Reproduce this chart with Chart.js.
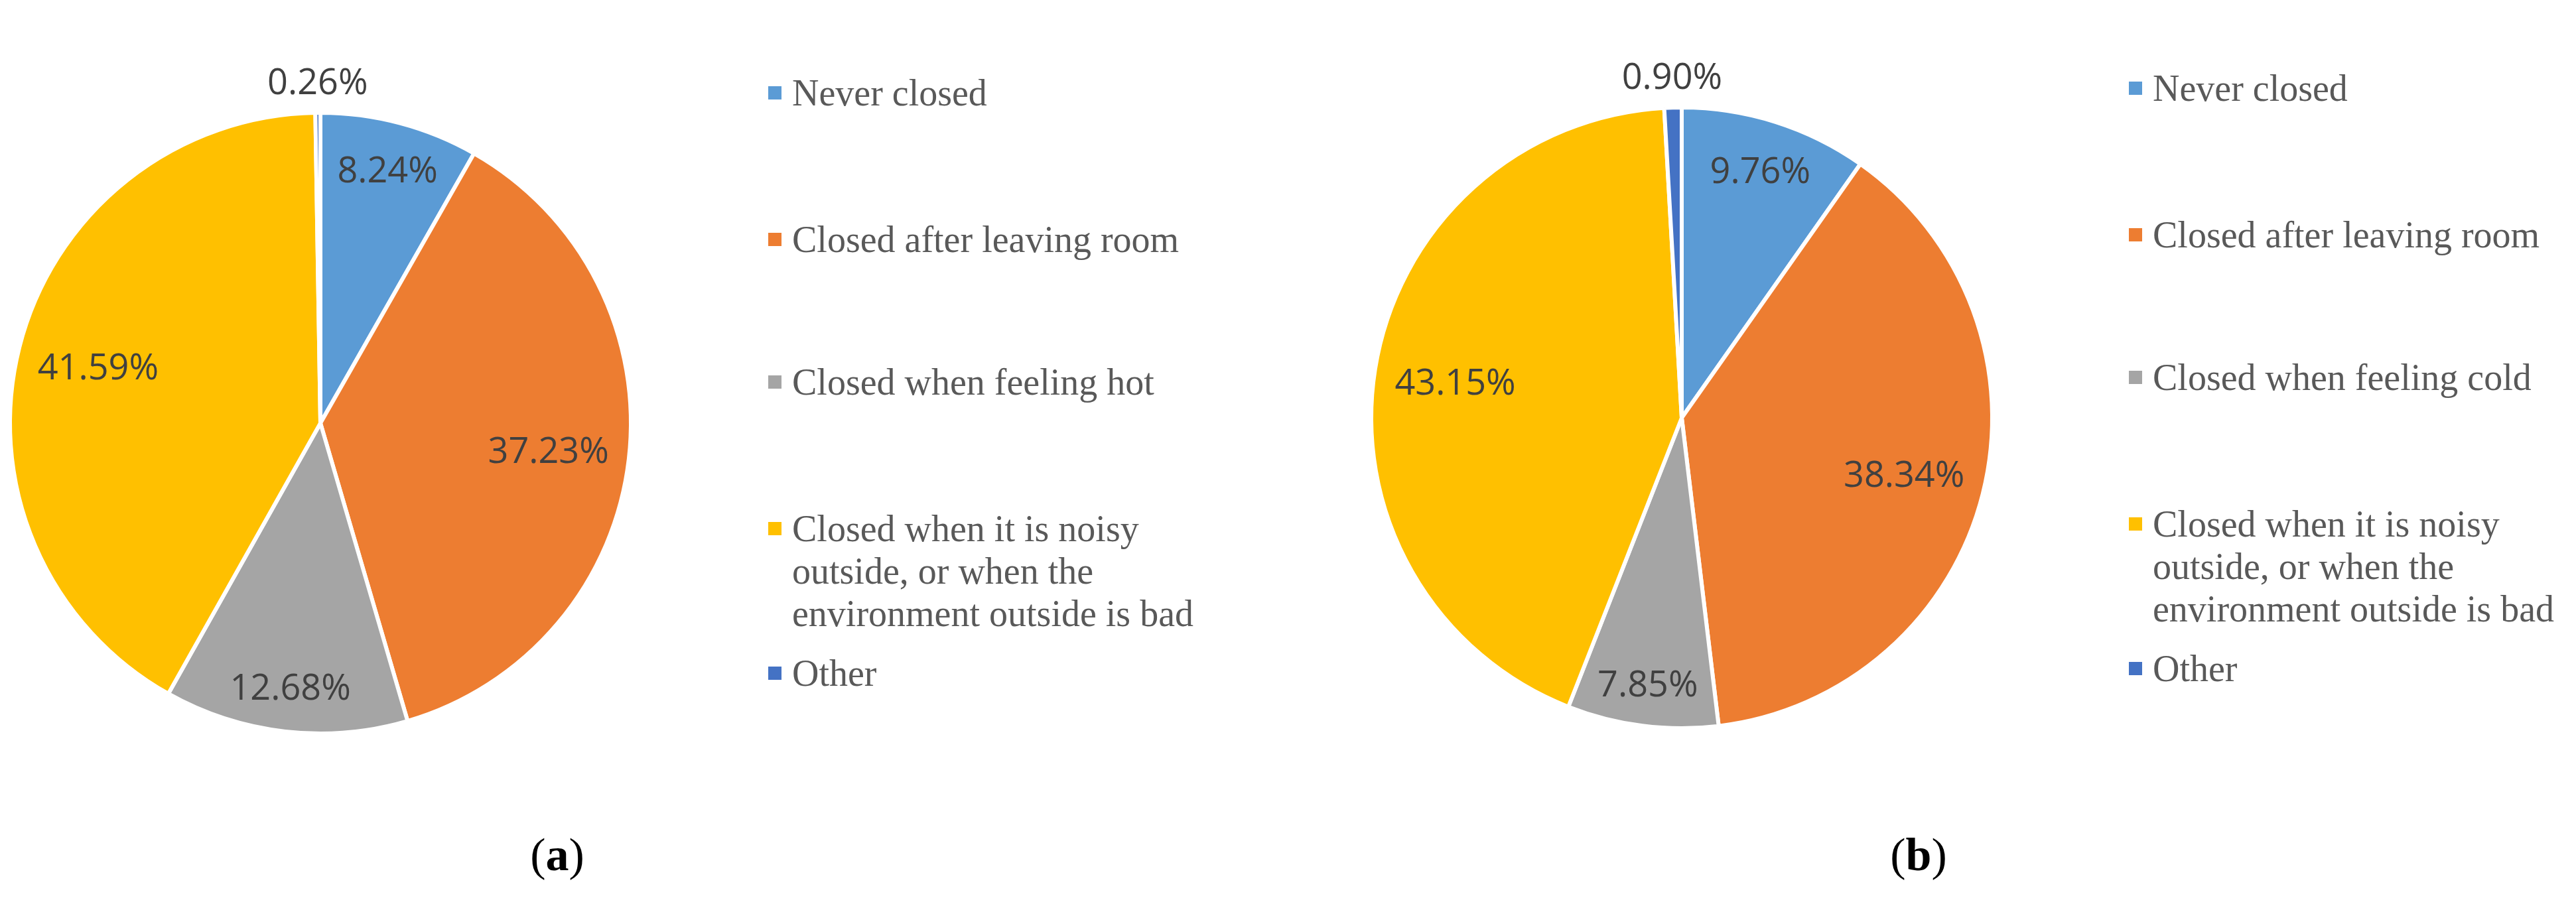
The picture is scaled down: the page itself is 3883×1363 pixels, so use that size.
<!DOCTYPE html>
<html><head><meta charset="utf-8">
<script src="https://cdn.jsdelivr.net/npm/chart.js@4.4.1/dist/chart.umd.min.js"></script>
<style>
html,body{margin:0;padding:0;background:#fff;}
body{width:3883px;height:1363px;position:relative;overflow:hidden;}
canvas{position:absolute;top:0;}
.legend{position:absolute;font-family:"Liberation Serif","Times New Roman",serif;font-size:56px;line-height:64px;color:#595959;}
.item{position:relative;padding-left:36px;width:650px;}
.sw{position:absolute;left:0;top:22px;width:20px;height:20px;}
.cap{position:absolute;top:1254px;font-family:"Liberation Serif","Times New Roman",serif;font-size:70px;line-height:70px;color:#000;transform:translateX(-50%);white-space:nowrap;}
</style></head><body>
<canvas id="pa" width="966" height="1276" style="left:0px;"></canvas>
<canvas id="pb" width="1000" height="1260" style="left:2035px;"></canvas>
<div id="la" class="legend" style="left:1158px;top:108px;"></div>
<div id="lb" class="legend" style="left:3209px;top:101px;"></div>
<div class="cap" style="left:840px;">(<b>a</b>)</div>
<div class="cap" style="left:2892px;">(<b>b</b>)</div>
<script>
// ---- data ----
const labelsA = ['Never closed', 'Closed after leaving room', 'Closed when feeling hot',
  'Closed when it is noisy outside, or when the environment outside is bad', 'Other'];
const labelsB = ['Never closed', 'Closed after leaving room', 'Closed when feeling cold',
  'Closed when it is noisy outside, or when the environment outside is bad', 'Other'];
const valuesA = [8.24, 37.23, 12.68, 41.59, 0.26];
const valuesB = [9.76, 38.34, 7.85, 43.15, 0.90];
const colors = ['#5B9BD5', '#ED7D31', '#A5A5A5', '#FFC000', '#4472C4'];

// ---- layout constants ----
const legendGaps = [0, 157, 151, 157, 26];

const pctLabels = {
  id: 'pctLabels',
  afterDatasetsDraw(chart) {
    const ctx = chart.ctx;
    const meta = chart.getDatasetMeta(0);
    const vals = chart.data.datasets[0].data;
    const fs = 54;
    ctx.save();
    ctx.font = fs + 'px "Open Sans"';
    ctx.fillStyle = '#404040';
    ctx.textAlign = 'center';
    ctx.textBaseline = 'alphabetic';
    meta.data.forEach((arc, i) => {
      const p = arc.getProps(['x', 'y', 'startAngle', 'endAngle', 'outerRadius'], true);
      const mid = (p.startAngle + p.endAngle) / 2;
      const ux = Math.cos(mid), uy = Math.sin(mid);
      const txt = vals[i].toFixed(2) + '%';
      const w = ctx.measureText(txt).width, h = 40;
      const R = p.outerRadius - 3;
      let d;
      if (vals[i] < 3) {
        d = R + 50;
      } else {
        let lo = 0, hi = R;
        for (let k = 0; k < 40; k++) {
          const m = (lo + hi) / 2, cx = m * ux, cy = m * uy;
          let far = 0;
          for (const sx of [-1, 1]) for (const sy of [-1, 1])
            far = Math.max(far, Math.hypot(cx + sx * w / 2, cy + sy * h / 2));
          if (far > R - 26) hi = m; else lo = m;
        }
        d = lo;
      }
      ctx.fillText(txt, p.x + d * ux, p.y + d * uy + 0.357 * fs);
    });
    ctx.restore();
  }
};

function makePie(id, labels, values) {
  return new Chart(document.getElementById(id), {
    type: 'pie',
    data: {
      labels: labels,
      datasets: [{
        data: values,
        backgroundColor: colors,
        borderColor: '#ffffff',
        borderWidth: 6,
        radius: 468
      }]
    },
    options: {
      responsive: false,
      animation: false,
      events: [],
      layout: { padding: 0 },
      plugins: { legend: { display: false }, tooltip: { enabled: false } }
    },
    plugins: [pctLabels]
  });
}

function makeLegend(id, labels) {
  const el = document.getElementById(id);
  labels.forEach((lab, i) => {
    const it = document.createElement('div');
    it.className = 'item';
    it.style.marginTop = legendGaps[i] + 'px';
    const sw = document.createElement('span');
    sw.className = 'sw';
    sw.style.background = colors[i];
    it.appendChild(sw);
    it.appendChild(document.createTextNode(lab));
    el.appendChild(it);
  });
}

makePie('pa', labelsA, valuesA);
makePie('pb', labelsB, valuesB);
makeLegend('la', labelsA);
makeLegend('lb', labelsB);
</script>
</body></html>
